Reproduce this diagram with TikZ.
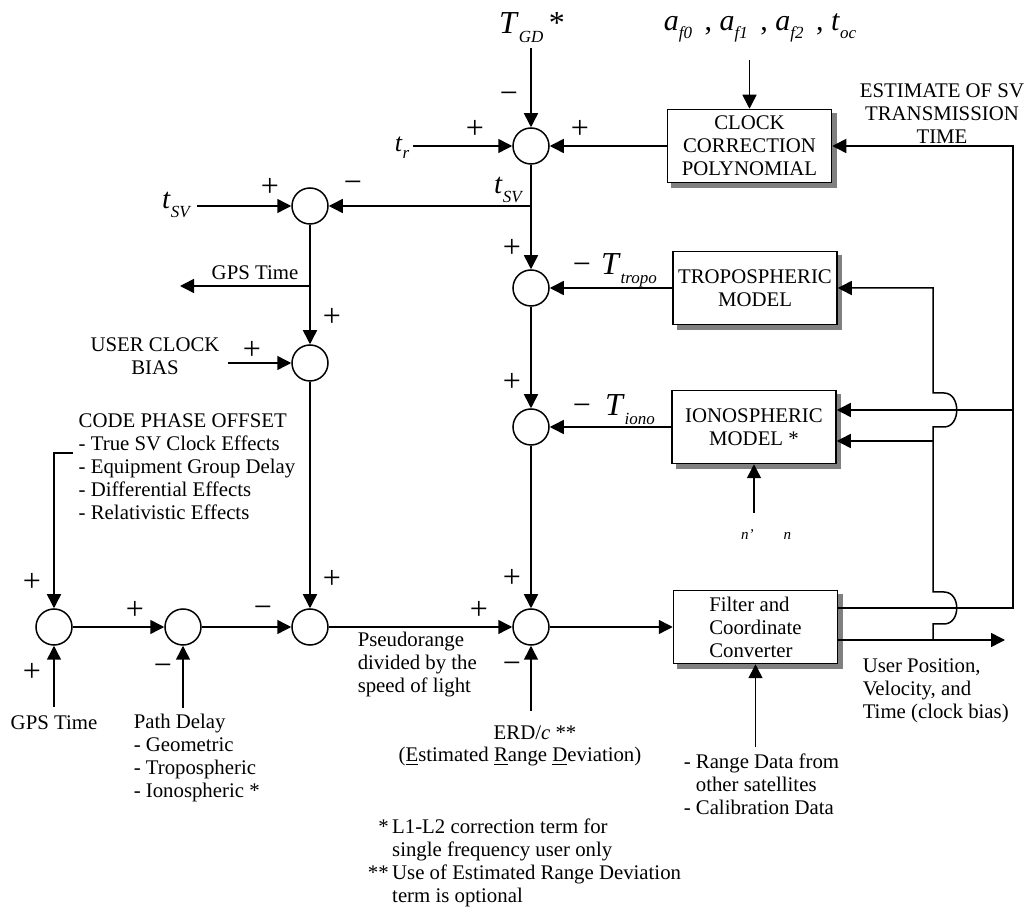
\documentclass[tikz,border=0pt]{standalone}
\usepackage{fontspec}
\setmainfont{Liberation Serif}
\usetikzlibrary{arrows.meta,shadows,calc}

\newcommand{\isub}[2]{\textit{#1}\raisebox{-0.28em}{\fontsize{8.5}{8.5}\selectfont\itshape #2}}

\begin{document}
\begin{tikzpicture}[x=0.5pt, y=-0.5pt, line width=0.75pt,
  font=\fontsize{10.4}{11.5}\selectfont,
  sumnode/.style={circle, draw, fill=white, minimum size=18pt, inner sep=0pt},
  blockbox/.style={draw, fill=white, minimum width=82pt, minimum height=36.5pt,
    align=center, inner sep=1pt,
    copy shadow={fill=black!50, draw=black!50, shadow xshift=2.2pt, shadow yshift=-2.2pt}},
  sgn/.style={inner sep=0pt, font=\fontsize{16}{16}\selectfont},
  lbl/.style={inner sep=0pt, align=left},
  flow/.style={-{Triangle[length=7pt, width=7pt]}}]
  \useasboundingbox (0,0) rectangle (1030,909);

  % summing junctions
  \node[sumnode] (sTop) at (531,146) {};
  \node[sumnode] (sSv) at (310,206) {};
  \node[sumnode] (sUser) at (310,363) {};
  \node[sumnode] (sTropo) at (531,288) {};
  \node[sumnode] (sIono) at (531,427) {};
  \node[sumnode] (sMain) at (531,627) {};
  \node[sumnode] (sA) at (54,627) {};
  \node[sumnode] (sB) at (183,627) {};
  \node[sumnode] (sC) at (310,627) {};

  % blocks
  \node[blockbox] (clock) at (749.5,146) {CLOCK\\CORRECTION\\POLYNOMIAL};
  \node[blockbox] (tropo) at (755,288) {TROPOSPHERIC\\MODEL};
  \node[blockbox] (iono) at (754,427) {IONOSPHERIC\\MODEL *};
  \node[blockbox, align=left] (filter) at (755.5,627) {Filter and\\Coordinate\\Converter};

  % labels
  \node[inner sep=0pt, font=\fontsize{16}{18}\selectfont] (tgd) at (532,28) {\isub{T}{GD}\,*};
  \node[inner sep=0pt, font=\fontsize{15}{18}\selectfont] (afs) at (760,28)
    {\isub{a}{f0}\, , \isub{a}{f1}\, , \isub{a}{f2}\, , \isub{t}{oc}};
  \node[inner sep=0pt, font=\fontsize{13}{15}\selectfont] (tr) at (402,148) {\isub{t}{r}};
  \node[inner sep=0pt, font=\fontsize{14.5}{16}\selectfont] (tsvL) at (176,205) {\isub{t}{SV}};
  \node[inner sep=0pt, font=\fontsize{14.5}{16}\selectfont] (tsvM) at (508,190) {\isub{t}{SV}};
  \node[inner sep=0pt, font=\fontsize{16}{18}\selectfont] (ttropo) at (629,270) {\isub{T}{tropo}};
  \node[inner sep=0pt, font=\fontsize{16}{18}\selectfont] (tiono) at (630,410) {\isub{T}{iono}};
  \node[inner sep=0pt, align=center] (est) at (942,114) {ESTIMATE OF SV\\TRANSMISSION\\TIME};
  \node[inner sep=0pt] (gpsTop) at (255,273) {GPS Time};
  \node[inner sep=0pt, align=center] (ucb) at (155,356) {USER CLOCK\\BIAS};
  \node[lbl, anchor=west] (cpo) at (78,467) {CODE PHASE OFFSET\\- True SV Clock Effects\\- Equipment Group Delay\\- Differential Effects\\- Relativistic Effects};
  \node[inner sep=0pt] (gpsBot) at (54,723) {GPS Time};
  \node[lbl, anchor=west] (pdl) at (133,758) {Path Delay\\- Geometric\\- Tropospheric\\- Ionospheric *};
  \node[lbl, anchor=west] (pseudo) at (357,665) {Pseudorange\\divided by the\\speed of light};
  \node[inner sep=0pt] (erd) at (535,733) {ERD/\textit{c} **};
  \node[inner sep=0pt] (erdFull) at (520,757) {(\underline{E}stimated \underline{R}ange \underline{D}eviation)};
  \node[inner sep=0pt, font=\fontsize{7.5}{8}\selectfont] (nn) at (766,535) {\textit{n'}\qquad\textit{n}};
  \node[lbl, anchor=west] (rdata) at (683,784) {- Range Data from\\\phantom{- }other satellites\\- Calibration Data};
  \node[lbl, anchor=west] (upos) at (862,691) {User Position,\\Velocity, and\\Time (clock bias)};
  \node[lbl, anchor=west] (notes) at (362,863) {\begin{tabular}{@{}r@{\,}l@{}}
    * & L1-L2 correction term for\\
      & single frequency user only\\{}
    ** & Use of Estimated Range Deviation\\
      & term is optional
  \end{tabular}};

  % signs
  \node[sgn] at (475,129) {+};
  \node[sgn] at (580,129) {+};
  \node[sgn] at (509,98) {−};
  \node[sgn] at (270,187) {+};
  \node[sgn] at (353,187) {−};
  \node[sgn] at (332,317) {+};
  \node[sgn] at (252,350) {+};
  \node[sgn] at (512,248) {+};
  \node[sgn] at (582,269) {−};
  \node[sgn] at (512,382) {+};
  \node[sgn] at (582,410) {−};
  \node[sgn] at (512,578) {+};
  \node[sgn] at (479,610) {+};
  \node[sgn] at (512,668) {−};
  \node[sgn] at (32,582) {+};
  \node[sgn] at (32,672) {+};
  \node[sgn] at (135,610) {+};
  \node[sgn] at (163,670) {−};
  \node[sgn] at (263,612) {−};
  \node[sgn] at (332,579) {+};

  % free ends and branch points
  \coordinate (tgdIn) at (531,48);
  \coordinate (afIn) at (749.5,60);
  \coordinate (trIn) at (413,146);
  \coordinate (tsvIn) at (197,206);
  \coordinate (jSv) at (531,206);
  \coordinate (jGps) at (310,286);
  \coordinate (gpsOut) at (180,286);
  \coordinate (ucbIn) at (228,363);
  \coordinate (cpoOut) at (73,453);
  \coordinate (gpsIn) at (54,707);
  \coordinate (pdIn) at (183,708);
  \coordinate (erdIn) at (531,711);
  \coordinate (rdIn) at (755.5,747);
  \coordinate (nIn) at (754,513);
  \coordinate (fbLo) at (1013,608);
  \coordinate (fbHi) at (clock.east -| fbLo);
  \coordinate (jIono1) at (1013,410);
  \coordinate (jOut) at (933,640);
  \coordinate (outEnd) at (1005,640);
  \coordinate (jmpLo) at (933,608);
  \coordinate (jmpHi) at (933,410);
  \coordinate (jIono2) at (933,441);
  \coordinate (jTropo) at (tropo.east -| jmpHi);

  % top loop
  \draw[flow] (tgdIn) -- (sTop);
  \draw[flow] (afIn) -- (clock);
  \draw[flow] (trIn) -- (sTop);
  \draw[flow] (clock) -- (sTop);
  \draw[flow] (sTop) -- (sTropo);
  \draw[flow] (jSv) -- (sSv);
  \draw[flow] (tsvIn) -- (sSv);
  \draw[flow] (sSv) -- (sUser);
  \draw[flow] (jGps) -- (gpsOut);
  \draw[flow] (ucbIn) -- (sUser);
  \draw[flow] (sUser) -- (sC);

  % bottom chain
  \draw[flow] (cpoOut) -| (sA);
  \draw[flow] (gpsIn) -- (sA);
  \draw[flow] (sA) -- (sB);
  \draw[flow] (pdIn) -- (sB);
  \draw[flow] (sB) -- (sC);
  \draw[flow] (sC) -- (sMain);

  % corrections
  \draw[flow] (tropo) -- (sTropo);
  \draw[flow] (sTropo) -- (sIono);
  \draw[flow] (iono) -- (sIono);
  \draw[flow] (sIono) -- (sMain);
  \draw[flow] (erdIn) -- (sMain);
  \draw[flow] (sMain) -- (filter);
  \draw[flow] (rdIn) -- (filter);
  \draw[flow] (nIn) -- (iono);

  % feedback from filter
  \draw[flow] (filter.east |- fbLo) -- (fbLo) -- (fbHi) -- (clock.east);
  \draw[flow] (jIono1) -- (iono.east |- jIono1);
  \draw[flow] (filter.east |- jOut) -- (outEnd);
  \draw[flow] (jOut) -- ($(jmpLo)+(0,16)$) -- ($(jmpLo)+(11,16)$)
    .. controls ($(jmpLo)+(28,16)$) and ($(jmpLo)+(28,-16)$) .. ($(jmpLo)+(11,-16)$)
    -- ($(jmpLo)+(0,-16)$) -- ($(jmpHi)+(0,17)$) -- ($(jmpHi)+(11,17)$)
    .. controls ($(jmpHi)+(28,17)$) and ($(jmpHi)+(28,-17)$) .. ($(jmpHi)+(11,-17)$)
    -- ($(jmpHi)+(0,-17)$) -- (jTropo) -- (tropo.east);
  \draw[flow] (jIono2) -- (iono.east |- jIono2);
\end{tikzpicture}
\end{document}
